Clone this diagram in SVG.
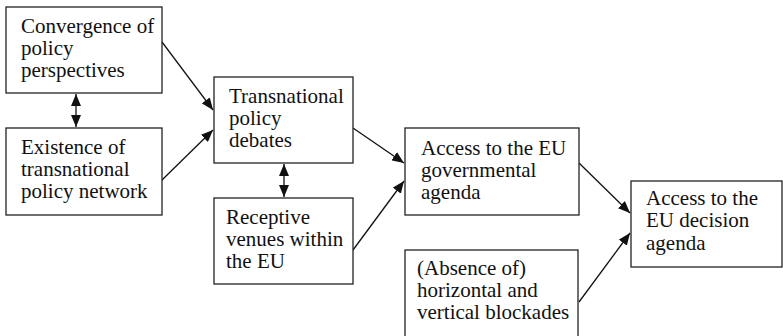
<svg xmlns="http://www.w3.org/2000/svg" width="783" height="336" viewBox="0 0 783 336">
<defs>
<marker id="ah" viewBox="0 0 12 10" refX="12" refY="5" markerWidth="12" markerHeight="10" markerUnits="userSpaceOnUse" orient="auto-start-reverse">
<path d="M0,0 L12,5 L0,10 Z" fill="#111"/>
</marker>
<style>
.box{fill:#fff;stroke:#222;stroke-width:1.3}
.t{font-family:"Liberation Serif","Times New Roman",serif;font-size:21px;fill:#111}
.c{stroke:#111;stroke-width:1.3;fill:none}
</style>
</defs>
<rect width="783" height="336" fill="#fff"/>
<g id="connectors">
<line class="c" x1="162" y1="42" x2="213" y2="110" marker-end="url(#ah)"/>
<line class="c" x1="162" y1="180" x2="213" y2="130" marker-end="url(#ah)"/>
<line class="c" x1="76" y1="94" x2="76" y2="127" marker-start="url(#ah)" marker-end="url(#ah)"/>
<line class="c" x1="284" y1="164" x2="284" y2="197" marker-start="url(#ah)" marker-end="url(#ah)"/>
<line class="c" x1="353" y1="128" x2="404" y2="163" marker-end="url(#ah)"/>
<line class="c" x1="353" y1="250" x2="404" y2="181" marker-end="url(#ah)"/>
<line class="c" x1="579" y1="163" x2="630" y2="213" marker-end="url(#ah)"/>
<line class="c" x1="579" y1="302" x2="630" y2="233" marker-end="url(#ah)"/>
</g>
<g id="convergence">
<rect class="box" x="6" y="7" width="156" height="86"/>
<text class="t" x="21" y="33">Convergence of</text>
<text class="t" x="21" y="55">policy</text>
<text class="t" x="21" y="77">perspectives</text>
</g>
<g id="existence">
<rect class="box" x="6" y="128" width="156" height="87"/>
<text class="t" x="21" y="154">Existence of</text>
<text class="t" x="21" y="176">transnational</text>
<text class="t" x="21" y="198">policy network</text>
</g>
<g id="transnational">
<rect class="box" x="214" y="77" width="139" height="86"/>
<text class="t" x="229" y="103">Transnational</text>
<text class="t" x="229" y="125">policy</text>
<text class="t" x="229" y="147">debates</text>
</g>
<g id="receptive">
<rect class="box" x="214" y="198" width="139" height="86"/>
<text class="t" x="226" y="224">Receptive</text>
<text class="t" x="226" y="246">venues within</text>
<text class="t" x="226" y="268">the EU</text>
</g>
<g id="governmental">
<rect class="box" x="405" y="128" width="174" height="87"/>
<text class="t" x="421" y="155">Access to the EU</text>
<text class="t" x="421" y="177">governmental</text>
<text class="t" x="421" y="199">agenda</text>
</g>
<g id="absence">
<rect class="box" x="405" y="250" width="173" height="100"/>
<text class="t" x="417" y="275">(Absence of)</text>
<text class="t" x="417" y="297">horizontal and</text>
<text class="t" x="417" y="319">vertical blockades</text>
</g>
<g id="decision">
<rect class="box" x="631" y="181" width="151" height="86"/>
<text class="t" x="646" y="205">Access to the</text>
<text class="t" x="646" y="227">EU decision</text>
<text class="t" x="646" y="250">agenda</text>
</g>
</svg>
